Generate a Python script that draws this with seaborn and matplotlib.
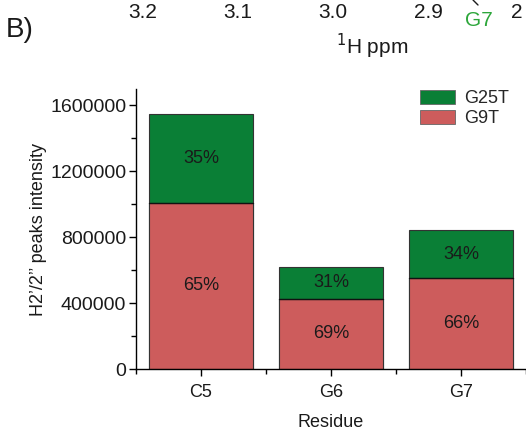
import matplotlib
matplotlib.use("Agg")
import matplotlib.pyplot as plt
from matplotlib.ticker import MultipleLocator, FixedLocator
from matplotlib.patches import Patch
from matplotlib.lines import Line2D
import seaborn as sns
import pandas as pd

# Residues and H2'/2'' peak intensities for each construct
residues = ["C5", "G6", "G7"]
g9t = [1010000, 428000, 555000]
g25t = [540000, 192000, 286000]

ppm_ticks = ["3.2", "3.1", "3.0", "2.9"]

GREEN = "#0a7f36"
RED = "#cd5c5c"

sns.set_theme(style="ticks")
plt.rcParams["font.family"] = ["Liberation Sans", "DejaVu Sans"]

df = pd.DataFrame({"Residue": residues, "G9T": g9t, "G25T": g25t})
df["Total"] = df["G9T"] + df["G25T"]

fig = plt.figure(figsize=(5.26, 4.32), dpi=100)
ax = fig.add_axes([136 / 526, 1 - 369 / 432, 390 / 526, 280 / 432])

# stacked bars: full height in green, G9T part drawn over it in red
sns.barplot(data=df, x="Residue", y="Total", color=GREEN, saturation=1,
            width=0.8, edgecolor="#333333", linewidth=0.8, ax=ax)
sns.barplot(data=df, x="Residue", y="G9T", color=RED, saturation=1,
            width=0.8, edgecolor="#333333", linewidth=0.8, ax=ax)
for i, row in df.iterrows():
    ax.plot([i - 0.4, i + 0.4], [row["G9T"], row["G9T"]], color="#111111", lw=1.0)

# percentage of each segment
for i, row in df.iterrows():
    tot = row["Total"]
    ax.text(i, row["G9T"] / 2, f"{round(100 * row['G9T'] / tot):d}%",
            ha="center", va="center", fontsize=13, color="#1a1a1a")
    ax.text(i, row["G9T"] + row["G25T"] / 2, f"{round(100 * row['G25T'] / tot):d}%",
            ha="center", va="center", fontsize=13, color="#1a1a1a")

ax.set_xlim(-0.5, 2.5)
ax.set_ylim(0, 1700000)
ax.yaxis.set_major_locator(FixedLocator([0, 400000, 800000, 1200000, 1600000]))
ax.yaxis.set_minor_locator(MultipleLocator(200000))
ax.set_yticklabels(["0", "400000", "800000", "1200000", "1600000"])
ax.xaxis.set_minor_locator(FixedLocator([-0.5, 0.5, 1.5, 2.5]))
ax.tick_params(axis="both", which="major", length=5, width=1,
               color="black", labelcolor="#1a1a1a", direction="out")
ax.tick_params(axis="both", which="minor", length=3.5, width=1, color="black")
ax.tick_params(axis="x", pad=6, labelsize=13)
ax.tick_params(axis="y", pad=2, labelsize=14)

for s in ["top", "right"]:
    ax.spines[s].set_visible(False)
for s in ["left", "bottom"]:
    ax.spines[s].set_color("black")
    ax.spines[s].set_linewidth(1.0)

ax.set_xlabel("Residue", fontsize=13, color="#1a1a1a", labelpad=9)
ax.set_ylabel("H2\u2019/2\u2019\u2019 peaks intensity", fontsize=13, color="#1a1a1a", labelpad=2)

handles = [Patch(facecolor=GREEN, edgecolor="#666666", linewidth=0.6, label="G25T"),
           Patch(facecolor=RED, edgecolor="#666666", linewidth=0.6, label="G9T")]
fig.legend(handles=handles, loc="upper left",
           bbox_to_anchor=(407 / 526, 1 - 77 / 432), frameon=False,
           fontsize=13, handlelength=1.95, handleheight=0.85,
           labelspacing=0.15, handletextpad=0.5, borderpad=0.2)

# fragment of the upper panel: ppm axis
def fx(px):
    return px / 526

def fy(py):
    return 1 - py / 432

fig.text(fx(20), fy(30), "B)", fontsize=20, ha="center", va="center", color="#1a1a1a")
for lbl, px in zip(ppm_ticks, [143, 238, 333, 428]):
    fig.text(fx(px), fy(12), lbl, fontsize=15, ha="center", va="center", color="#1a1a1a")
fig.text(fx(517), fy(12), "2", fontsize=15, ha="center", va="center", color="#1a1a1a")
fig.text(fx(479), fy(20), "G7", fontsize=15, ha="center", va="center", color="#2ca63a")
fig.add_artist(Line2D([fx(473), fx(478)], [fy(0), fy(5)], color="#1a1a1a", lw=1))
fig.text(fx(372), fy(46), "$^{1}$H ppm", fontsize=15, ha="center", va="center", color="#1a1a1a")

fig.savefig("out.png", dpi=100)
